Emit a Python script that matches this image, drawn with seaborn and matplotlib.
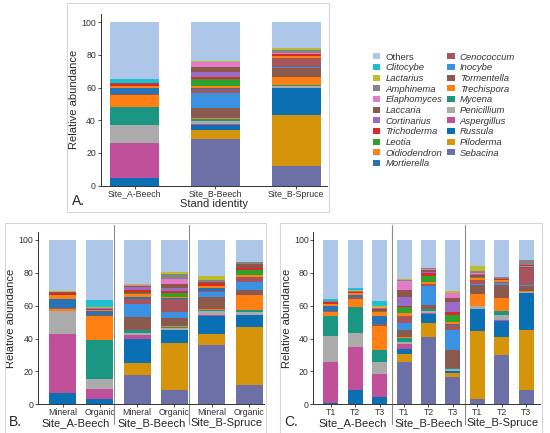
import pandas as pd
import seaborn as sns
import matplotlib.pyplot as plt
from matplotlib.patches import Patch, Rectangle

# genera, bottom of the stack first
genera = ["Sebacina", "Piloderma", "Russula", "Aspergillus", "Penicillium", "Mycena",
          "Trechispora", "Tormentella", "Inocybe", "Cenococcum", "Mortierella",
          "Oidiodendron", "Leotia", "Trichoderma", "Cortinarius", "Laccaria",
          "Elaphomyces", "Amphinema", "Lactarius", "Clitocybe", "Others"]
colors = ["#6c70a6", "#d6940a", "#0b70b3", "#c0509a", "#ababab", "#1b9683",
          "#fe8012", "#8b5a4f", "#3b92e3", "#a8545b", "#2673b8",
          "#ff8214", "#2ea22c", "#da2a28", "#9a6bc7", "#8c564b",
          "#e47ac8", "#848484", "#bcbd2c", "#1ebfd0", "#aec6e8"]

# Panel A: by stand
stands = ["Site_A-Beech", "Site_B-Beech", "Site_B-Spruce"]
a_site_a_beech = [0, 0, 5, 21, 11, 11, 7.5, 0.5, 0, 0.3, 3.7, 1.0, 0.2, 0.8, 0.2, 0.3, 0.1, 0.2, 0.3, 2.2, 34.7]
a_site_b_beech = [28.7, 5.3, 3, 1, 1.5, 1.5, 0.2, 6.3, 9, 2.5, 0.5, 1.5, 4, 1.5, 3, 3, 3, 0.3, 0.6, 0.1, 23.5]
a_site_b_spruce = [12, 31.5, 16, 0.2, 1.3, 0.8, 4.7, 5.5, 0.5, 5.5, 0, 1.2, 0.2, 1.0, 0.2, 0.2, 0.1, 1.8, 1.5, 0, 15.8]

# Panel B: by horizon
horizons = ["Mineral", "Organic"]
b_a_beech_mineral = [0, 0, 6.7, 36, 14, 0.3, 0.7, 0.5, 0, 0.5, 5.5, 2, 0.2, 1.2, 0.2, 0.5, 0, 0.2, 0.2, 0, 31.3]
b_a_beech_organic = [0, 0, 3.2, 6.1, 6.2, 23.5, 15, 0.3, 0, 0.2, 2, 0.7, 0.2, 0.8, 0.1, 0.2, 0, 0.1, 0.3, 4.3, 36.8]
b_b_beech_mineral = [18, 7, 15, 2, 1.5, 1.5, 0.3, 8, 7.7, 3.2, 1, 2, 0.5, 2, 1.8, 0.5, 0.6, 0.2, 0.3, 0, 26.9]
b_b_beech_organic = [9, 28, 8, 0.3, 1.2, 0.7, 0.3, 5, 3.7, 8, 0.2, 0.6, 3, 0.7, 2.3, 2, 3, 3.5, 0.8, 0, 19.7]
b_b_spruce_mineral = [36, 6.5, 11, 1, 2.5, 0.5, 0.5, 7, 3.5, 0.5, 1.5, 1.2, 0.3, 1.5, 0.5, 0.5, 0.2, 0.8, 2.5, 0, 22]
b_b_spruce_organic = [12, 35, 7.2, 0.3, 1.5, 1.4, 9, 3, 5, 3, 0.2, 1, 3.3, 1, 0.3, 2, 0.2, 1.2, 0.2, 0, 13.2]

# Panel C: by sampling time
times = ["T1", "T2", "T3"]
c_a_beech_t1 = [0, 0, 1, 24.5, 16, 12.5, 2, 0.3, 0, 0.2, 3.5, 0.8, 0.2, 1, 0.2, 0.3, 0, 0.2, 0.2, 1, 36.1]
c_a_beech_t2 = [0, 0, 8.7, 26.3, 8.5, 15.5, 5.2, 0.5, 0, 0.5, 1.5, 0.8, 0.2, 0.8, 0.2, 0.3, 0, 0.2, 0.2, 1.3, 29.3]
c_a_beech_t3 = [0, 0, 4.5, 13.8, 7.2, 7.5, 14.5, 0.5, 0, 0.8, 5, 2.5, 0.2, 1.5, 0.3, 0.3, 0, 0.2, 0.8, 3.2, 37.2]
c_b_beech_t1 = [25.8, 4.7, 3, 3, 1.5, 2.5, 0.5, 4.5, 4, 4.3, 0.2, 1.5, 3.5, 1, 5, 4.7, 5.5, 0.2, 0.8, 0, 23.8]
c_b_beech_t2 = [41, 8.5, 5.5, 0.8, 1.2, 0.8, 0.2, 2.3, 11.6, 1.2, 0.3, 0.9, 3.6, 2, 0.3, 1.4, 0.6, 0.6, 0.2, 0, 17]
c_b_beech_t3 = [16.5, 2.5, 1, 0.3, 1, 0.5, 0.2, 11.2, 12.3, 2.5, 1, 1.2, 4.2, 2, 6, 2.2, 3, 0.3, 0.8, 0, 31.3]
c_b_spruce_t1 = [3.5, 41, 13.2, 0.3, 1.6, 0.2, 7.1, 5.6, 0.6, 2.8, 0, 1.2, 0.2, 1.6, 0.2, 0.4, 0.1, 1.3, 3.4, 0, 15.7]
c_b_spruce_t2 = [30, 10.8, 10, 0.3, 3.5, 2, 8, 8.2, 0.8, 0.5, 0.2, 1.4, 0.1, 0.3, 0.1, 0.2, 0.1, 0.8, 0.2, 0, 22.5]
c_b_spruce_t3 = [8.5, 36.5, 22.7, 0.1, 0.3, 0.1, 0.6, 3, 1, 10.3, 0.2, 0.6, 0.1, 1, 0.1, 0.2, 0.1, 2.5, 0.1, 0, 12]

panel_a = [a_site_a_beech, a_site_b_beech, a_site_b_spruce]
panel_b = [b_a_beech_mineral, b_a_beech_organic, b_b_beech_mineral,
           b_b_beech_organic, b_b_spruce_mineral, b_b_spruce_organic]
panel_c = [c_a_beech_t1, c_a_beech_t2, c_a_beech_t3, c_b_beech_t1, c_b_beech_t2,
           c_b_beech_t3, c_b_spruce_t1, c_b_spruce_t2, c_b_spruce_t3]

sns.set_theme(style="ticks")
plt.rcParams["font.family"] = ["Liberation Sans", "DejaVu Sans"]
palette = dict(zip(genera, colors))
W, H = 550, 433
TICK = 6.3
LAB = 8


def long_table(bars):
    rows = []
    for i, vals in enumerate(bars):
        for g, v in zip(genera, vals):
            rows.append((i, g, v))
    return pd.DataFrame(rows, columns=["bar", "genus", "abundance"])


def px_axes(left, top, right, bottom):
    return fig.add_axes([left / W, 1 - bottom / H, (right - left) / W, (bottom - top) / H])


def stacked(ax, bars, shrink, xlim):
    sns.histplot(data=long_table(bars), x="bar", hue="genus", weights="abundance",
                 hue_order=genera[::-1], palette=palette, multiple="stack",
                 discrete=True, shrink=shrink, alpha=1, linewidth=0,
                 edgecolor="none", legend=False, ax=ax)
    sns.despine(ax=ax)
    ax.set_xlim(*xlim)
    ax.set_ylim(0, 105)
    ax.set_yticks([0, 20, 40, 60, 80, 100])
    ax.set_xticks(range(len(bars)))
    ax.tick_params(labelsize=TICK, length=2.2, width=0.6, pad=0.6, colors="#333333")
    ax.tick_params(axis="y", pad=1.2)
    for s in ax.spines.values():
        s.set_linewidth(0.7)
        s.set_color("#333333")
    ax.set_ylabel("Relative abundance", fontsize=LAB, labelpad=1.5)
    ax.set_xlabel("")


def groups(ax, seps, xlim):
    bounds = [xlim[0]] + seps + [xlim[1]]
    for s in seps:
        ax.plot([s, s], [1.04, -0.114], transform=ax.get_xaxis_transform(),
                color="#8c8c8c", lw=0.8, clip_on=False)
    for k, name in enumerate(stands):
        ax.text((bounds[k] + bounds[k + 1]) / 2, -0.11, name, fontsize=LAB,
                ha="center", va="center", transform=ax.get_xaxis_transform())


fig = plt.figure(figsize=(W / 100, H / 100), dpi=100)

# panel frames
for x0, y0, x1, y1 in [(66.7, 3, 329, 212), (5, 222.7, 266, 440), (280, 222.7, 542, 440)]:
    fig.add_artist(Rectangle((x0 / W, 1 - y1 / H), (x1 - x0) / W, (y1 - y0) / H,
                             transform=fig.transFigure, fill=False, ec="#d6d6d6", lw=0.8))

# A
ax_a = px_axes(100.7, 14, 327, 185.7)
stacked(ax_a, panel_a, 0.6, (-0.42, 2.38))
ax_a.set_xticklabels(stands)
ax_a.set_xlabel("Stand identity", fontsize=LAB, labelpad=0.5)
fig.text(72 / W, 1 - 200.5 / H, "A.", fontsize=10, va="center")

# B
ax_b = px_axes(38, 231.7, 264, 404.3)
lim_b = (-0.66, 5.4)
stacked(ax_b, panel_b, 0.72, lim_b)
ax_b.set_xticklabels(horizons * 3)
groups(ax_b, [1.38, 3.38], lim_b)
fig.text(9 / W, 1 - 422 / H, "B.", fontsize=10, va="center")

# C
ax_c = px_axes(313.3, 231.7, 540, 404.3)
lim_c = (-0.72, 8.57)
stacked(ax_c, panel_c, 0.61, lim_c)
ax_c.set_xticklabels(times * 3)
groups(ax_c, [2.5, 5.5], lim_c)
fig.text(284 / W, 1 - 422 / H, "C.", fontsize=10, va="center")

# legend, same order as the reference (top of stack first)
order = genera[::-1]
handles = [Patch(facecolor=palette[g], edgecolor="none") for g in order]
leg = fig.legend(handles, order, loc="upper left", bbox_to_anchor=(372.7 / W, 1 - 52.5 / H),
                 ncol=2, frameon=False, fontsize=6.8, borderpad=0, borderaxespad=0,
                 handlelength=0.8, handleheight=0.6, handletextpad=0.55,
                 columnspacing=0.5, labelspacing=0.18)
for t in leg.get_texts():
    t.set_color("#333333")
    if t.get_text() != "Others":
        t.set_fontstyle("italic")

fig.savefig("out.png", dpi=100)
